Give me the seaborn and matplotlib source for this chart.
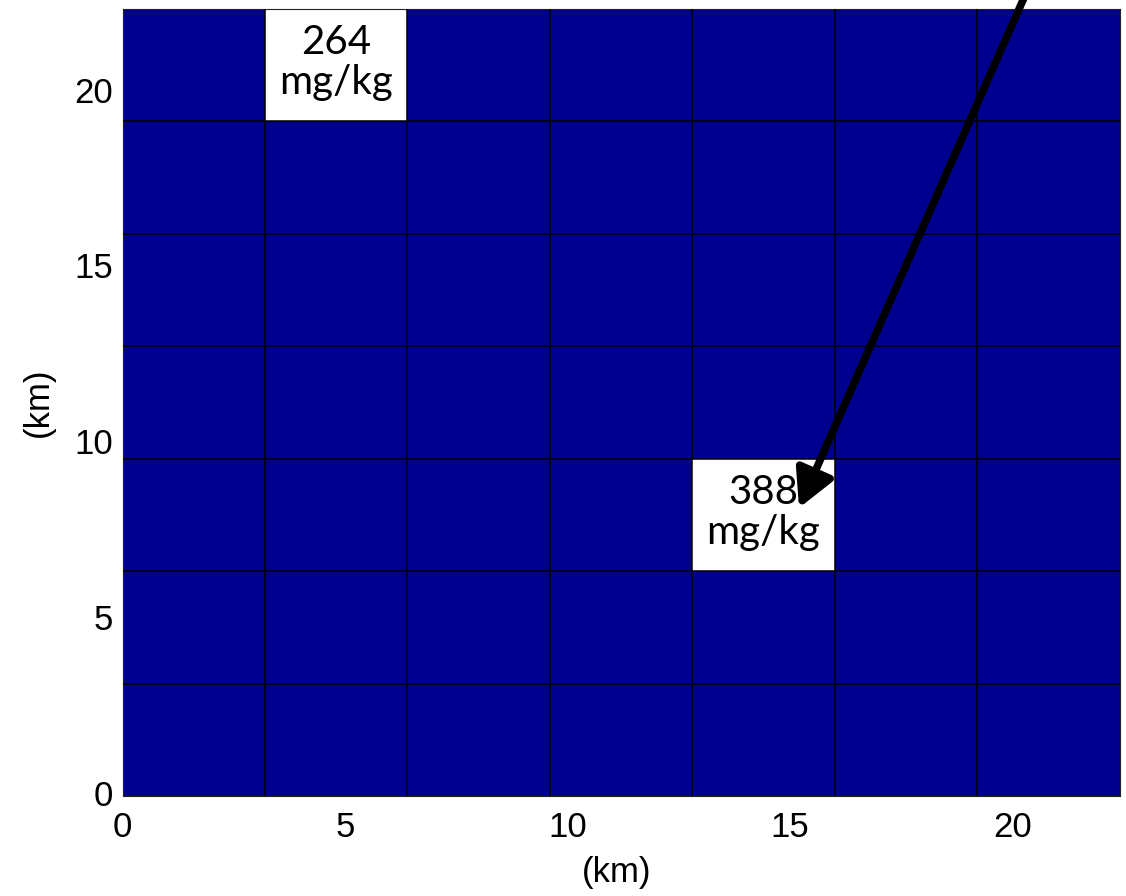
import numpy as np
import pandas as pd
import matplotlib
matplotlib.use("Agg")
import matplotlib.pyplot as plt
from matplotlib.colors import ListedColormap
import seaborn as sns

# ---- data ----
cell_km = 3.2                      # grid cell size (km)
n_cols = 7
n_rows = 7
# concentration level per cell (rows listed bottom -> top); all background cells at lowest level
grid_values = [
    [0, 0, 0, 0, 0, 0, 0],
    [0, 0, 0, 0, 0, 0, 0],
    [0, 0, 0, 0, 388, 0, 0],
    [0, 0, 0, 0, 0, 0, 0],
    [0, 0, 0, 0, 0, 0, 0],
    [0, 0, 0, 0, 0, 0, 0],
    [0, 264, 0, 0, 0, 0, 0],
]
sample_cols = [1, 4]
sample_rows = [6, 2]
sample_values = [264, 388]
sample_unit = "mg/kg"
tick_km = [0, 5, 10, 15, 20]
tick_labels = ["0", "5", "10", "15", "20"]
axis_label = "(km)"
# arrow (km): tail beyond the top of the plot, tip inside the 388 cell
arrow_tail_km = (20.7, 24.0)
arrow_tip_km = (15.2, 8.2)

df = pd.DataFrame(grid_values)
mask = np.zeros_like(df.values, dtype=bool)
for c, r in zip(sample_cols, sample_rows):
    mask[r, c] = True

sns.set_style("white")
plt.rcParams["font.family"] = ["Liberation Sans", "DejaVu Sans"]
plt.rcParams["text.color"] = "black"
plt.rcParams["axes.labelcolor"] = "black"
plt.rcParams["xtick.color"] = "black"
plt.rcParams["ytick.color"] = "black"

fig = plt.figure(figsize=(11.26, 8.96), dpi=100)
ax = fig.add_axes([122.5 / 1126, (896 - 796) / 896, 997 / 1126, 787 / 896])

sns.heatmap(df, mask=mask, cmap=ListedColormap(["#00008F"]), cbar=False,
            linewidths=0, ax=ax, square=False)
ax.invert_yaxis()
ax.set_facecolor("white")
ax.set_xlim(0, n_cols)
ax.set_ylim(0, n_rows)

# cell boundaries (thin, crisp black lines)
for i in range(1, n_cols):
    ax.axvline(i, color="black", linewidth=1.1, solid_capstyle="butt", zorder=3)
for j in range(1, n_rows):
    ax.axhline(j, color="black", linewidth=1.1, solid_capstyle="butt", zorder=3)

ax.set_xticks(np.array(tick_km) / cell_km)
ax.set_xticklabels(tick_labels, rotation=0)
ax.set_yticks(np.array(tick_km) / cell_km)
ax.set_yticklabels(tick_labels, rotation=0)
ax.tick_params(axis="both", length=0, labelsize=25)
ax.tick_params(axis="x", pad=11)
ax.tick_params(axis="y", pad=7)

for s in ax.spines.values():
    s.set_visible(True)
    s.set_color("#222222")
    s.set_linewidth(0.8)

ax.set_xlabel(axis_label, fontsize=25)
ax.set_ylabel(axis_label, fontsize=25)
ax.xaxis.set_label_coords(0.496, -0.076)
ax.yaxis.set_label_coords(-0.068, 0.5)

for c, r, v in zip(sample_cols, sample_rows, sample_values):
    ax.text(c + 0.5, r + 0.52, f"{v}\n{sample_unit}", ha="center", va="center",
            fontsize=29, family=["Lato", "DejaVu Sans"], linespacing=1.1,
            color="black", zorder=4)

ax.annotate("", xy=(arrow_tip_km[0] / cell_km, arrow_tip_km[1] / cell_km),
            xytext=(arrow_tail_km[0] / cell_km, arrow_tail_km[1] / cell_km),
            arrowprops=dict(arrowstyle="-|>,head_length=0.45,head_width=0.24",
                            mutation_scale=50, lw=5.5, color="black",
                            shrinkA=0, shrinkB=0),
            annotation_clip=False, zorder=5)

fig.savefig("out.png", dpi=100)
